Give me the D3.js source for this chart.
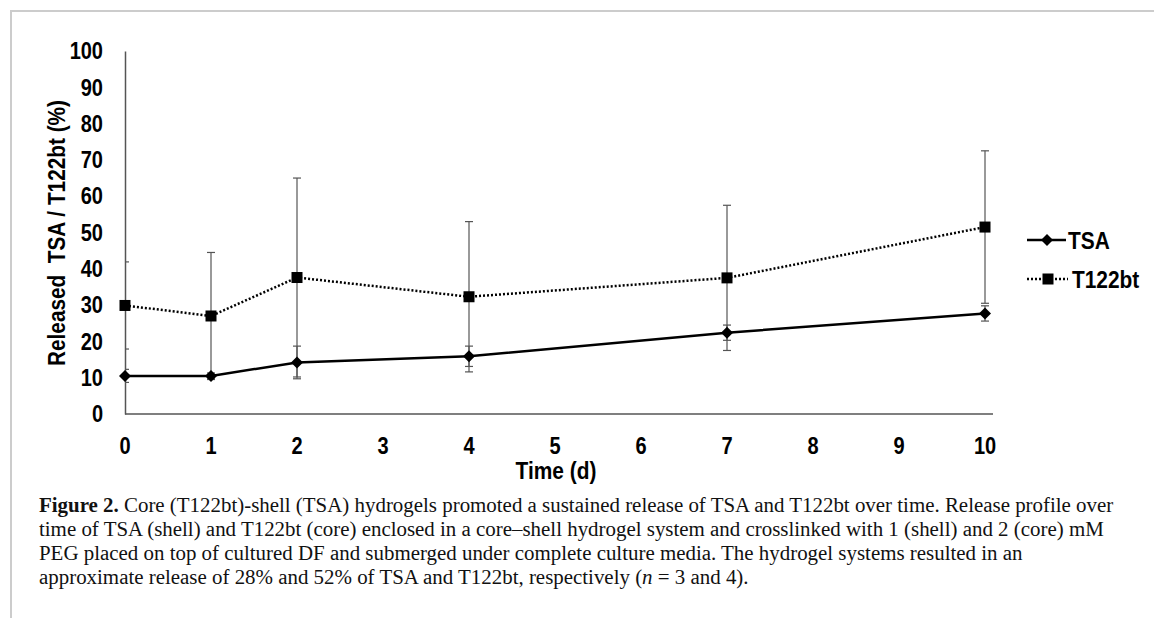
<!DOCTYPE html>
<html>
<head>
<meta charset="utf-8">
<script src="https://cdn.jsdelivr.net/npm/d3@7"></script>
<style>
  body { margin: 0; background: #fff; }
  .tick-label, .axis-title, .legend-text {
    font-family: "Liberation Sans", Arial, sans-serif;
    font-weight: bold;
    fill: #000;
  }
  .caption { font-family: "Liberation Serif", "DejaVu Serif", serif; font-size: 20px; fill: #111; }
</style>
</head>
<body>
<div id="chart"></div>
<script>
// data
var days = [0, 1, 2, 4, 7, 10];
var tsaValues = [10.5, 10.5, 14.2, 15.9, 22.4, 27.7];
var tsaErrors = [1.8, 0.8, 4.5, 2.8, 2.1, 2.1];
var t122Values = [29.9, 27.0, 37.6, 32.3, 37.5, 51.5];
var t122Errors = [12.0, 17.5, 27.4, 20.7, 20.0, 21.0];
var xTicks = [0, 1, 2, 3, 4, 5, 6, 7, 8, 9, 10];
var yTicks = [0, 10, 20, 30, 40, 50, 60, 70, 80, 90, 100];
var seriesNames = ["TSA", "T122bt"];
var captionLines = [
  "Core (T122bt)-shell (TSA) hydrogels promoted a sustained release of TSA and T122bt over time. Release profile over",
  "time of TSA (shell) and T122bt (core) enclosed in a core\u2013shell hydrogel system and crosslinked with 1 (shell) and 2 (core) mM",
  "PEG placed on top of cultured DF and submerged under complete culture media. The hydrogel systems resulted in an",
  "approximate release of 28% and 52% of TSA and T122bt, respectively ("
];

var svgWidth = 1154;
var svgHeight = 618;
var narrow = 0.87; // the figure uses a condensed bold face

var svg = d3.select("#chart")
  .append("svg")
  .attr("width", svgWidth)
  .attr("height", svgHeight);

// page frame
svg.append("path")
  .attr("d", "M11,618 V11 H1154")
  .attr("fill", "none")
  .attr("stroke", "#cccccc")
  .attr("stroke-width", 2);

var xScale = d3.scaleLinear().domain([0, 10]).range([125, 985]);
var yScale = d3.scaleLinear().domain([0, 100]).range([414, 51]);

svg.append("clipPath")
  .attr("id", "plot-clip")
  .append("rect")
  .attr("x", 125).attr("y", 0).attr("width", 900).attr("height", 414);

// axes lines
var xAxis = svg.append("g")
  .attr("transform", "translate(0, 414)")
  .call(d3.axisBottom(xScale).tickValues(xTicks).tickSize(0).tickFormat(""));
xAxis.select(".domain")
  .attr("d", "M125,0 H993")
  .attr("stroke", "#555")
  .attr("stroke-width", 1.5);

var yAxis = svg.append("g")
  .attr("transform", "translate(125, 0)")
  .call(d3.axisLeft(yScale).tickValues(yTicks).tickSize(0).tickFormat(""));
yAxis.select(".domain")
  .attr("stroke", "#555")
  .attr("stroke-width", 1.5);

// tick labels
svg.append("g").selectAll("text")
  .data(yTicks)
  .enter()
  .append("text")
  .attr("class", "tick-label")
  .attr("transform", d => `translate(103, ${yScale(d)}) scale(${narrow}, 1)`)
  .attr("dy", "0.36em")
  .attr("text-anchor", "end")
  .style("font-size", "23px")
  .text(d => d);

svg.append("g").selectAll("text")
  .data(xTicks)
  .enter()
  .append("text")
  .attr("class", "tick-label")
  .attr("transform", d => `translate(${xScale(d)}, 454) scale(${narrow}, 1)`)
  .attr("text-anchor", "middle")
  .style("font-size", "23px")
  .text(d => d);

// axis titles
svg.append("text")
  .attr("class", "axis-title")
  .attr("transform", "translate(65, 233) rotate(-90)")
  .attr("text-anchor", "middle")
  .attr("textLength", 266)
  .attr("lengthAdjust", "spacingAndGlyphs")
  .style("font-size", "24px")
  .attr("xml:space", "preserve")
  .text("Released  TSA / T122bt (%)");

svg.append("text")
  .attr("class", "axis-title")
  .attr("transform", `translate(556, 479) scale(${narrow}, 1)`)
  .attr("text-anchor", "middle")
  .style("font-size", "24px")
  .text("Time (d)");

// error bars, clipped to the plot area like the original
function drawErrors(values, errors) {
  var g = svg.append("g")
    .attr("clip-path", "url(#plot-clip)")
    .attr("stroke", "#555")
    .attr("stroke-width", 1.2);
  days.forEach(function(d, i) {
    var x = xScale(d);
    var top = yScale(values[i] + errors[i]);
    var bot = yScale(values[i] - errors[i]);
    g.append("line").attr("x1", x).attr("x2", x).attr("y1", top).attr("y2", bot);
    g.append("line").attr("x1", x - 4).attr("x2", x + 4).attr("y1", top).attr("y2", top);
    g.append("line").attr("x1", x - 4).attr("x2", x + 4).attr("y1", bot).attr("y2", bot);
  });
}
drawErrors(t122Values, t122Errors);
drawErrors(tsaValues, tsaErrors);

var line = d3.line()
  .x((d, i) => xScale(days[i]))
  .y(d => yScale(d));

svg.append("path")
  .datum(t122Values)
  .attr("d", line)
  .attr("fill", "none")
  .attr("stroke", "#000")
  .attr("stroke-width", 2.5)
  .attr("stroke-dasharray", "2,2");

svg.append("path")
  .datum(tsaValues)
  .attr("d", line)
  .attr("fill", "none")
  .attr("stroke", "#000")
  .attr("stroke-width", 2.5);

function diamond(cx, cy, r) {
  return "M" + cx + "," + (cy - r) + "L" + (cx + r) + "," + cy + "L" + cx + "," + (cy + r) + "L" + (cx - r) + "," + cy + "Z";
}

svg.append("g").selectAll("path")
  .data(tsaValues)
  .enter()
  .append("path")
  .attr("d", (d, i) => diamond(xScale(days[i]), yScale(d), 6))
  .attr("fill", "#000");

svg.append("g").selectAll("rect")
  .data(t122Values)
  .enter()
  .append("rect")
  .attr("x", (d, i) => xScale(days[i]) - 5.5)
  .attr("y", d => yScale(d) - 5.5)
  .attr("width", 11)
  .attr("height", 11)
  .attr("fill", "#000");

// legend
var legend = svg.append("g");
legend.append("line")
  .attr("x1", 1027).attr("x2", 1066).attr("y1", 240).attr("y2", 240)
  .attr("stroke", "#000").attr("stroke-width", 2.5);
legend.append("path")
  .attr("d", diamond(1047, 240, 6))
  .attr("fill", "#000");
legend.append("text")
  .attr("class", "legend-text")
  .attr("transform", `translate(1068, 240) scale(${narrow}, 1)`)
  .attr("dy", "0.36em")
  .style("font-size", "24px")
  .text(seriesNames[0]);

legend.append("line")
  .attr("x1", 1027).attr("x2", 1068).attr("y1", 279).attr("y2", 279)
  .attr("stroke", "#000").attr("stroke-width", 2.5)
  .attr("stroke-dasharray", "2,2");
legend.append("rect")
  .attr("x", 1042.5).attr("y", 273.5).attr("width", 11).attr("height", 11)
  .attr("fill", "#000");
legend.append("text")
  .attr("class", "legend-text")
  .attr("transform", `translate(1072, 279) scale(${narrow}, 1)`)
  .attr("dy", "0.36em")
  .style("font-size", "24px")
  .text(seriesNames[1]);

// caption
var capX = 39;
var caption = svg.append("g");
var first = caption.append("text")
  .attr("class", "caption")
  .attr("x", capX).attr("y", 512);
first.append("tspan").style("font-weight", "bold").text("Figure 2.");
first.append("tspan").text(" " + captionLines[0]);

caption.append("text").attr("class", "caption").attr("x", capX).attr("y", 536).text(captionLines[1]);
caption.append("text").attr("class", "caption").attr("x", capX).attr("y", 560).text(captionLines[2]);
var last = caption.append("text").attr("class", "caption").attr("x", capX).attr("y", 584);
last.append("tspan").text(captionLines[3]);
last.append("tspan").style("font-style", "italic").text("n");
last.append("tspan").text(" = 3 and 4).");

// fit the caption so the first line runs out to the right edge of the original
var natural = first.node().getComputedTextLength();
var stretch = 1075 / natural;
caption.selectAll("text")
  .attr("transform", `translate(${capX}, 0) scale(${stretch}, 1) translate(${-capX}, 0)`);
</script>
</body>
</html>
